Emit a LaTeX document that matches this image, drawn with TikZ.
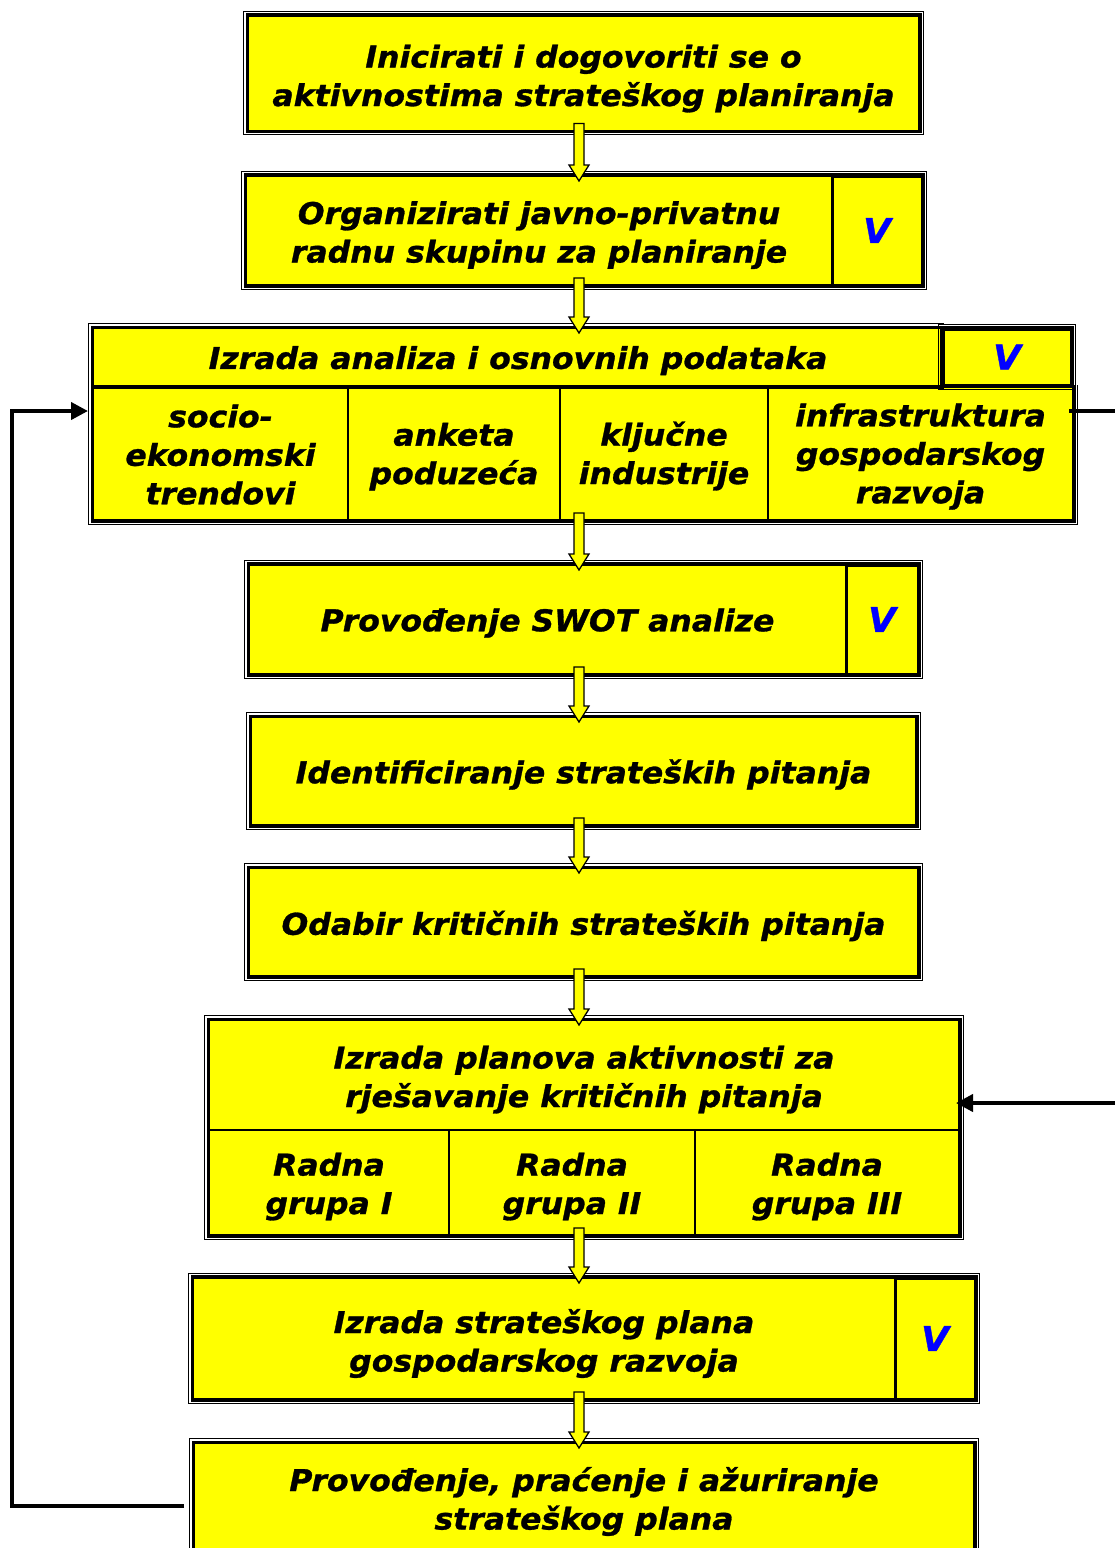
\documentclass[tikz,border=0pt]{standalone}
\usepackage{fontspec}
\setmainfont{DejaVu Sans}[BoldItalicFeatures={FakeStretch=1.05,FakeBold=1}]
\usetikzlibrary{arrows.meta,calc}
\definecolor{boxyellow}{RGB}{255,255,0}
\definecolor{vblue}{RGB}{0,0,255}
\newcommand\mystrut[1][34pt]{\rule{0pt}{#1}}
\newcommand\dframe[2]{%
  \draw[line width=3pt] (#1.south west) rectangle (#2.north east);
  \draw[line width=1.3pt] ([shift={(-3.2,3.2)}]#1.south west) rectangle ([shift={(3.2,-3.2)}]#2.north east);}
\newcommand\blk[2]{%
  \draw[blockarrow] let \p1=(#1.south), \p2=(#2.north) in
    (574pt,\y1+8pt) -- (584pt,\y1+8pt) -- (584pt,\y2+10pt) -- (589pt,\y2+10pt)
    -- (579pt,\y2-6pt) -- (569pt,\y2+10pt) -- (574pt,\y2+10pt) -- cycle;}
\begin{document}
\begin{tikzpicture}[x=1pt,y=-1pt,
  font=\fontsize{30}{38.5}\selectfont\bfseries\itshape,
  cell/.style={draw=black, line width=2pt, fill=boxyellow, inner sep=0pt, align=center, text=black},
  vcell/.style={draw=black, fill=boxyellow, inner sep=0pt, line width=3pt,
    font=\fontsize{34}{38}\selectfont\bfseries\itshape, text=vblue},
  blockarrow/.style={draw=black, line width=1.3pt, fill=boxyellow, line join=miter},
  fb/.style={draw=black, line width=4pt},
  fbarrow/.style={fb, -{Triangle[length=17pt,width=17pt]}}]
\useasboundingbox (0,0) rectangle (1115,1548);

% Box 1
\node[cell, minimum width=671, minimum height=115] (b1) at (583.5,73) {\mystrut Inicirati i dogovoriti se o\\aktivnostima strateškog planiranja};
\dframe{b1}{b1}

% Box 2
\node[cell, minimum width=586, minimum height=109] (b2) at (539,230.5) {\mystrut[32pt]Organizirati javno-privatnu\\radnu skupinu za planiranje};
\node[vcell, minimum width=90, minimum height=109] (v2) at (877,230.5) {V};
\dframe{b2}{v2}

% Box 3
\node[cell, minimum width=850, minimum height=58] (b3) at (518,357) {\mystrut[30pt]Izrada analiza i osnovnih podataka};
\node[cell, minimum width=255, minimum height=134] (cA) at (220.5,453) {\mystrut[26pt]socio-\\ekonomski\\trendovi};
\node[cell, minimum width=212, minimum height=134] (cB) at (454,453) {\mystrut[30pt]anketa\\poduzeća};
\node[cell, minimum width=208, minimum height=134] (cC) at (664,453) {\mystrut[30pt]ključne\\industrije};
\node[cell, minimum width=305, minimum height=134] (cD) at (920.5,453) {\mystrut[30pt]infrastruktura\\gospodarskog\\razvoja};
\draw[line width=3pt] (b3.south west) -- (b3.south east);
\draw[line width=3pt] (cD.north east) -- (cD.south east) -- (cA.south west) -- (b3.north west) -- (b3.north east);
\draw[line width=1.3pt] ([shift={(3.2,0)}]cD.north east) -- ([shift={(3.2,3.2)}]cD.south east)
  -- ([shift={(-3.2,3.2)}]cA.south west) -- ([shift={(-3.2,-3.2)}]b3.north west) -- ([shift={(0,-3.2)}]b3.north east);
\node[vcell, minimum width=128, minimum height=56] (v3) at (1007,357) {V};
\dframe{v3}{v3}

% Box 4
\node[cell, minimum width=597, minimum height=109] (b4) at (547.5,619.5) {\mystrut[30pt]Provođenje SWOT analize};
\node[vcell, minimum width=72, minimum height=109] (v4) at (882,619.5) {V};
\dframe{b4}{v4}

% Box 5
\node[cell, minimum width=665, minimum height=108] (b5) at (583.5,771) {\mystrut[31pt]Identificiranje strateških pitanja};
\dframe{b5}{b5}

% Box 6
\node[cell, minimum width=669, minimum height=108] (b6) at (583.5,922) {\mystrut[32pt]Odabir kritičnih strateških pitanja};
\dframe{b6}{b6}

% Box 7
\node[cell, minimum width=750, minimum height=110] (b7) at (584,1075) {\mystrut[32pt]Izrada planova aktivnosti za\\rješavanje kritičnih pitanja};
\node[cell, minimum width=240, minimum height=105] (g1) at (329,1182.5) {\mystrut[31pt]Radna\\grupa I};
\node[cell, minimum width=246, minimum height=105] (g2) at (572,1182.5) {\mystrut[31pt]Radna\\grupa II};
\node[cell, minimum width=264, minimum height=105] (g3) at (827,1182.5) {\mystrut[31pt]Radna\\grupa III};
\dframe{g1}{b7}

% Box 8
\node[cell, minimum width=702, minimum height=121] (b8) at (544,1338.5) {\mystrut Izrada strateškog plana\\gospodarskog razvoja};
\node[vcell, minimum width=80, minimum height=121] (v8) at (935,1338.5) {V};
\dframe{b8}{v8}

% Box 9
\node[cell, minimum width=780, minimum height=117] (b9) at (584,1501.5) {Provođenje, praćenje i ažuriranje\\strateškog plana};
\dframe{b9}{b9}

% Block arrows
\blk{b1}{b2}
\blk{b2}{b3}
\blk{cC}{b4}
\blk{b4}{b5}
\blk{b5}{b6}
\blk{b6}{b7}
\blk{g2}{b8}
\blk{b8}{b9}

% Feedback lines
\coordinate (leftcorner) at (12,411);
\draw[fbarrow, line join=miter] ([shift={(-9,4.5)}]b9.west) -| (leftcorner) -- ([shift={(-4,-42)}]cA.west);
\coordinate (rightend) at (1115,411);
\draw[fb] ([shift={(-5,-42)}]cD.east) -- (rightend);
\coordinate (rightend2) at (1115,1103);
\draw[fbarrow] (rightend2) -- ([shift={(-4,28)}]b7.east);
\end{tikzpicture}
\end{document}
